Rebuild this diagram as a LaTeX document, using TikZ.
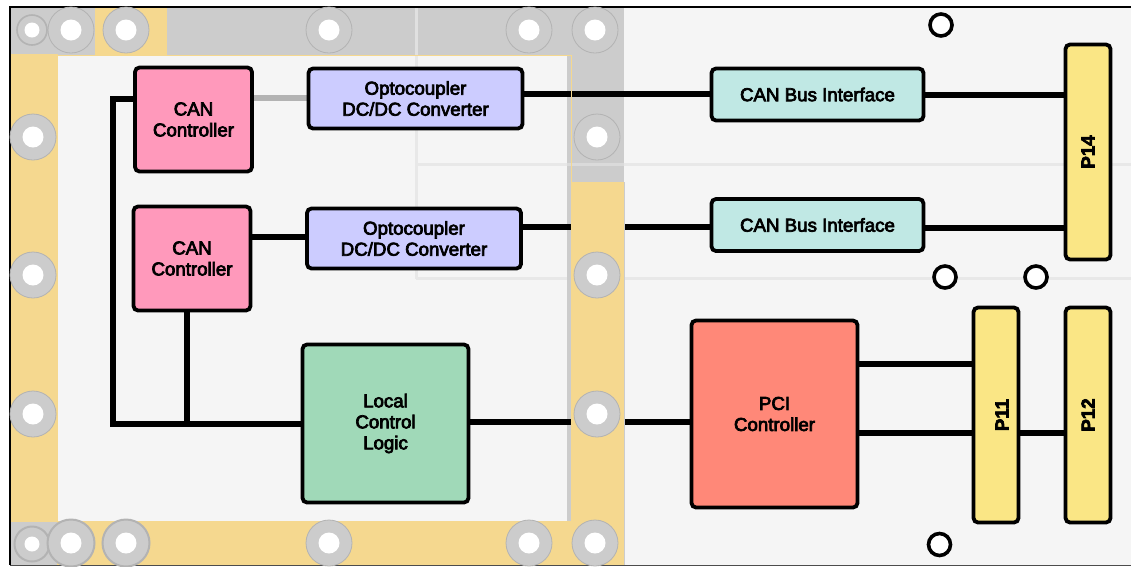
\documentclass[tikz,border=0pt]{standalone}
\usepackage{fontspec}
\setmainfont{Liberation Sans}
\newfontfamily\lab{Liberation Sans}
\newfontfamily\labb{Liberation Sans Bold}
\newcommand{\hvy}[1]{\special{pdf:code q 2 Tr 0.7 w}#1\special{pdf:code Q}}
\pgfdeclarelayer{wires}\pgfdeclarelayer{frame}\pgfdeclarelayer{boxes}
\pgfsetlayers{main,wires,frame,boxes}
\definecolor{yframe}{HTML}{F5D88F}
\definecolor{gframe}{HTML}{CCCCCC}
\definecolor{gedge}{HTML}{B3B3B3}
\definecolor{boardc}{HTML}{F5F5F5}
\definecolor{tracec}{HTML}{E8E8E8}
\definecolor{canc}{HTML}{FF99BB}
\definecolor{optoc}{HTML}{CCCCFF}
\definecolor{busc}{HTML}{C0E8E4}
\definecolor{connc}{HTML}{FAE685}
\definecolor{logicc}{HTML}{A0D9B8}
\definecolor{pcic}{HTML}{FF8878}
\tikzset{
 blockbox/.style={draw=black,line width=3.8pt,rounded corners=4.5pt,inner sep=0pt,outer sep=0pt,
   align=center,font=\lab\fontsize{18.7}{21}\selectfont},
 canbox/.style={blockbox,fill=canc,minimum width=117pt,minimum height=104pt},
 optobox/.style={blockbox,fill=optoc,minimum width=214pt,minimum height=60pt},
 busbox/.style={blockbox,fill=busc,minimum width=212pt,minimum height=52pt},
 connbox/.style={blockbox,fill=connc,minimum width=45pt,minimum height=215pt,font=\labb\fontsize{18.7}{21}\selectfont},
 wire/.style={line width=6pt,black},
 mount/.style={circle,draw=gedge,line width=0.8pt,fill=gframe,minimum size=46pt,inner sep=0pt,outer sep=0pt,path picture={\fill[white] (path picture bounding box.center) circle (10.5pt);}},
 mountb/.style={mount,line width=2pt,minimum size=47pt},
 smallmount/.style={mount,minimum size=30pt,line width=1.6pt,path picture={\fill[white] (path picture bounding box.center) circle (7.5pt);}},
 hole/.style={circle,draw=black,line width=3.6pt,fill=white,minimum size=22pt,inner sep=0pt,outer sep=0pt},
 tracel/.style={tracec,line width=3pt},
}
\begin{document}
\begin{tikzpicture}[x=1pt,y=-1pt]
\useasboundingbox (0,0) rectangle (1131,566);
\fill[white] (0,0) rectangle (1131,566);
% board
\fill[boardc] (10,7) rectangle (1131,566);
\fill[gframe] (11,8) rectangle (624,55);
\fill[gframe] (567,8) rectangle (624,182);
\draw[tracec!70!gframe,line width=3pt] (416,7) -- (416,55);
\draw[tracel] (416,55) -- (416,279);
\draw[tracel] (416,164.5) -- (567,164.5);
\draw[tracel] (624,164.5) -- (1131,164.5);
\draw[tracec!50!gframe,line width=3pt] (567,164.5) -- (624,164.5);
\draw[tracel] (416,278) -- (1131,278);
\fill[gframe] (567,182) rectangle (571,523);
% frame above the connectors
\begin{pgfonlayer}{frame}
\fill[yframe] (95,8) rectangle (167,55);
\fill[yframe] (11,54) rectangle (58,523);
\fill[gframe] (11,522) rectangle (57,565);
\fill[yframe] (57,521) rectangle (624,565);
\fill[yframe] (571,182) rectangle (624,565);
\draw[yframe,line width=1pt] (58,55.5) -- (571,55.5) -- (571,182);
\draw[gframe,line width=1pt] (624.2,182) -- (624.2,565);
\draw[black,line width=2.4pt] (1131,7) -- (10,7) -- (10,565);
\draw[black!70,line width=1.4pt] (10,565.3) -- (1131,565.3);
\node[smallmount] (m0) at (32,30) {};
\node[mount] (m1) at (71,30) {};
\node[mount] (m2) at (126,30) {};
\node[mount] (m3) at (329,30) {};
\node[mount] (m4) at (529,30) {};
\node[mount] (m5) at (595,30) {};
\node[mount] (m6) at (33,137) {};
\node[mount] (m7) at (597,137) {};
\node[mount] (m8) at (33,275) {};
\node[mount] (m9) at (597,275) {};
\node[mount] (m10) at (33,414) {};
\node[mount] (m11) at (597,414) {};
\node[smallmount,minimum size=35pt,line width=2pt] (m12) at (32,544) {};
\node[mountb] (m13) at (71,543) {};
\node[mountb] (m14) at (126,543) {};
\node[mount] (m15) at (329,543) {};
\node[mount] (m16) at (529,543) {};
\node[mount] (m17) at (595,543) {};
\node[hole] (h1) at (941,25) {};
\node[hole] (h2) at (945,277) {};
\node[hole] (h3) at (1036,277) {};
\node[hole] (h4) at (939.5,544.5) {};
\end{pgfonlayer}
\begin{pgfonlayer}{boxes}
\node[canbox] (can1) at (193.5,119.5) {\hvy{CAN}\\\hvy{Controller}};
\node[canbox] (can2) at (192,258.5) {\hvy{CAN}\\\hvy{Controller}};
\node[optobox] (opto1) at (415.5,98.5) {\hvy{Optocoupler}\\\hvy{DC/DC Converter}};
\node[optobox] (opto2) at (414,238.5) {\hvy{Optocoupler}\\\hvy{DC/DC Converter}};
\node[busbox] (bus1) at (817.5,94.5) {\hvy{CAN Bus Interface}};
\node[busbox] (bus2) at (817.5,225) {\hvy{CAN Bus Interface}};
\node[connbox] (p14) at (1088,152) {\rotatebox{90}{\hvy{P14}}};
\node[connbox] (p11) at (996,415) {\hspace*{12pt}\rotatebox{90}{\hvy{P11}}};
\node[connbox] (p12) at (1088,415) {\rotatebox{90}{\hvy{P12}}};
\node[blockbox,fill=logicc,minimum width=166pt,minimum height=158pt] (logic) at (385.5,423.5) {\hvy{Local}\\\hvy{Control}\\\hvy{Logic}};
\node[blockbox,fill=pcic,minimum width=166pt,minimum height=187pt] (pci) at (774.5,414) {\hvy{PCI}\\\hvy{Controller}};
\end{pgfonlayer}
\begin{pgfonlayer}{wires}
\coordinate (tl) at (113,99);
\coordinate (bl) at (113,424);
\coordinate (tee) at (187,424);
\draw[wire,line join=miter] (can1.west |- tl) -- (tl) -- (bl) -- (logic.west |- bl);
\draw[wire] (can2.south -| tee) -- (tee);
\draw[gedge,line width=6pt] (can1.east |- 0,98) -- (opto1.west |- 0,98);
\draw[wire] (opto1.east |- 0,94) -- (bus1.west |- 0,94);
\draw[wire] (bus1.east |- 0,95) -- (p14.west |- 0,95);
\draw[wire] (can2.east |- 0,237) -- (opto2.west |- 0,237);
\draw[wire] (opto2.east |- 0,227) -- (bus2.west |- 0,227);
\draw[wire] (bus2.east |- 0,228) -- (p14.west |- 0,228);
\draw[wire] (logic.east |- 0,422) -- (pci.west |- 0,422);
\draw[wire] (pci.east |- 0,364) -- (p11.west |- 0,364);
\draw[wire] (pci.east |- 0,433) -- (p11.west |- 0,433);
\draw[wire] (p11.east |- 0,433) -- (p12.west |- 0,433);
\end{pgfonlayer}
\end{tikzpicture}
\end{document}
